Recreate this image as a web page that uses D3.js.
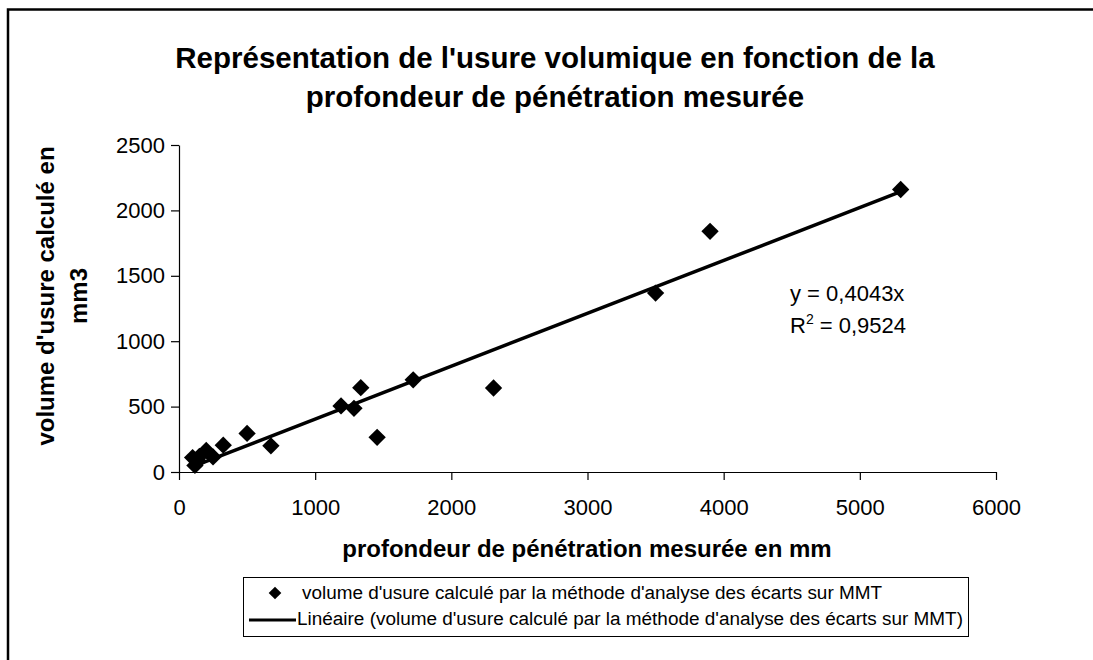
<!DOCTYPE html>
<html>
<head>
<meta charset="utf-8">
<script src="https://cdn.jsdelivr.net/npm/d3@7"></script>
<style>
  html, body { margin: 0; padding: 0; background: #fff; overflow: hidden; }
  svg { display: block; font-family: "Liberation Sans", Arial, sans-serif; }
</style>
</head>
<body>
<div id="chart"></div>
<script>
// Data
const depth = [100, 117, 140, 150, 200, 250, 325, 500, 675, 1190, 1285, 1335, 1455, 1720, 2310, 3500, 3900, 5300];
const volume = [110, 50, 85, 120, 165, 115, 205, 295, 200, 505, 487, 645, 265, 705, 642, 1368, 1840, 2160];
const xTicks = [0, 1000, 2000, 3000, 4000, 5000, 6000];
const yTicks = [0, 500, 1000, 1500, 2000, 2500];
const slope = 0.4043;
const r2Text = "0,9524";

const titleLines = [
  "Représentation de l'usure volumique en fonction de la",
  "profondeur de pénétration mesurée",
];
const yTitleLines = ["volume d'usure calculé en", "mm3"];
const xTitle = "profondeur de pénétration mesurée en mm";
const legendLabels = [
  "volume d'usure calculé par la méthode d'analyse des écarts sur MMT",
  "Linéaire (volume d'usure calculé par la méthode d'analyse des écarts sur MMT)",
];

const WIDTH = 1093;
const HEIGHT = 660;

const svg = d3
  .select("#chart")
  .append("svg")
  .attr("width", WIDTH)
  .attr("height", HEIGHT);

svg.append("rect").attr("width", WIDTH).attr("height", HEIGHT).attr("fill", "#fff");

// chart area frame: only its top and left edges are inside the picture
svg
  .append("path")
  .attr("d", `M8,${HEIGHT} V9.5 H${WIDTH}`)
  .attr("fill", "none")
  .attr("stroke", "#000")
  .attr("stroke-width", 2.5);

const x = d3.scaleLinear().domain([0, 6000]).range([179, 996]);
const y = d3.scaleLinear().domain([0, 2500]).range([472, 145]);

// axes
const xAxis = svg
  .append("g")
  .attr("transform", `translate(0,${y(0)})`)
  .call(
    d3.axisBottom(x).tickValues(xTicks).tickSize(8).tickSizeOuter(0).tickPadding(19).tickFormat(d3.format("d"))
  );

const yAxis = svg
  .append("g")
  .attr("transform", `translate(${x(0)},0)`)
  .call(
    d3.axisLeft(y).tickValues(yTicks).tickSize(8).tickSizeOuter(0).tickPadding(6).tickFormat(d3.format("d"))
  );

[xAxis, yAxis].forEach((g) => {
  g.selectAll("path, line").attr("stroke", "#000").attr("stroke-width", 1.2);
  g.selectAll("text")
    .attr("fill", "#000")
    .style("font-size", "22px")
    .style("font-family", '"Liberation Sans", Arial, sans-serif');
});

// linear trendline through the origin, from min to max x
const xMin = d3.min(depth);
const xMax = d3.max(depth);
svg
  .append("line")
  .attr("x1", x(xMin))
  .attr("y1", y(slope * xMin))
  .attr("x2", x(xMax))
  .attr("y2", y(slope * xMax))
  .attr("stroke", "#000")
  .attr("stroke-width", 3.5);

// diamond markers
const diamond = d3.symbol(d3.symbolSquare).size(150);
svg
  .append("g")
  .selectAll("path")
  .data(depth.map((d, i) => ({ x: d, y: volume[i] })))
  .join("path")
  .attr("d", diamond)
  .attr("transform", (d) => `translate(${x(d.x)},${y(d.y)}) rotate(45)`)
  .attr("fill", "#000");

// equation labels
svg
  .append("text")
  .attr("x", 790)
  .attr("y", 301)
  .style("font-size", "22px")
  .text(`y = ${String(slope).replace(".", ",")}x`);

const r2 = svg.append("text").attr("x", 790).attr("y", 333).style("font-size", "22px");
r2.append("tspan").text("R");
r2.append("tspan").attr("dy", -9).style("font-size", "14px").text("2");
r2.append("tspan").attr("dy", 9).text(` = ${r2Text}`);

// title
svg
  .append("g")
  .selectAll("text")
  .data(titleLines)
  .join("text")
  .attr("x", 555)
  .attr("y", (d, i) => 68 + i * 39)
  .attr("text-anchor", "middle")
  .style("font-size", "29.5px")
  .style("font-weight", "bold")
  .text((d) => d);

// y axis title
svg
  .append("g")
  .selectAll("text")
  .data(yTitleLines)
  .join("text")
  .attr("transform", (d, i) => `translate(${54 + i * 33},296) rotate(-90)`)
  .attr("text-anchor", "middle")
  .style("font-size", "24px")
  .style("font-weight", "bold")
  .text((d) => d);

// x axis title
svg
  .append("text")
  .attr("x", 587)
  .attr("y", 557)
  .attr("text-anchor", "middle")
  .style("font-size", "24px")
  .style("font-weight", "bold")
  .text(xTitle);

// legend
const legend = svg.append("g");
legend
  .append("rect")
  .attr("x", 243.5)
  .attr("y", 577.5)
  .attr("width", 725)
  .attr("height", 59)
  .attr("fill", "#fff")
  .attr("stroke", "#000")
  .attr("stroke-width", 1);

legend
  .append("path")
  .attr("d", d3.symbol(d3.symbolSquare).size(80))
  .attr("transform", "translate(275,593) rotate(45)")
  .attr("fill", "#000");

legend
  .append("line")
  .attr("x1", 249)
  .attr("x2", 296)
  .attr("y1", 620)
  .attr("y2", 620)
  .attr("stroke", "#000")
  .attr("stroke-width", 3);

legend
  .selectAll("text.lbl")
  .data(legendLabels)
  .join("text")
  .attr("class", "lbl")
  .attr("x", (d, i) => (i === 0 ? 302 : 297))
  .attr("y", (d, i) => 599 + i * 26)
  .attr("textLength", (d, i) => (i === 0 ? 580 : 666))
  .attr("lengthAdjust", "spacingAndGlyphs")
  .style("font-size", "18px")
  .text((d) => d);
</script>
</body>
</html>
